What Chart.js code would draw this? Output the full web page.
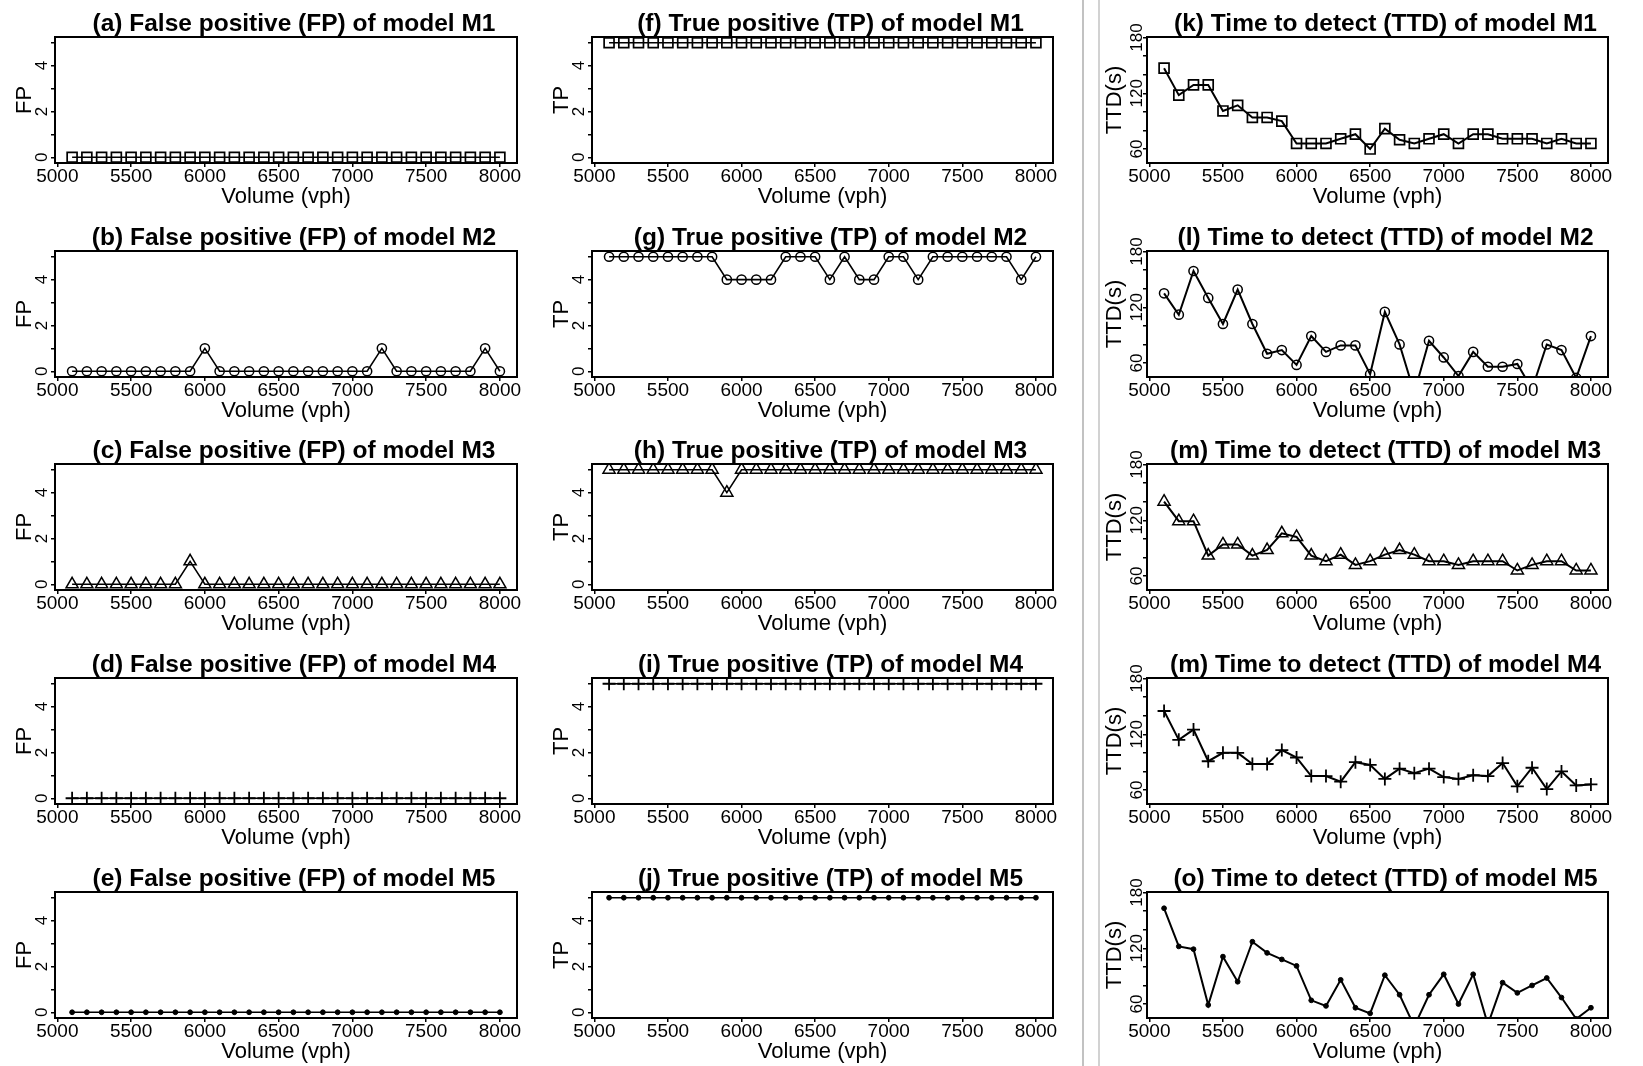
<!DOCTYPE html>
<html>
<head>
<meta charset="utf-8">
<script src="https://cdn.jsdelivr.net/npm/chart.js@4.4.1/dist/chart.umd.min.js"></script>
<style>
  html, body { margin: 0; padding: 0; background: #fff; }
  body { width: 1643px; height: 1066px; position: relative; overflow: hidden; }
  canvas { position: absolute; }
  .divider { position: absolute; top: 0; height: 1066px; }
</style>
</head>
<body>
<div class="divider" style="left:1082px; width:2px; background:#c2c2c2"></div>
<div class="divider" style="left:1098px; width:1.5px; background:#d2d2d2"></div>
<script>
// Traffic volume (vph) tested for every model
const volumes = [5100, 5200, 5300, 5400, 5500, 5600, 5700, 5800, 5900, 6000,
                 6100, 6200, 6300, 6400, 6500, 6600, 6700, 6800, 6900, 7000,
                 7100, 7200, 7300, 7400, 7500, 7600, 7700, 7800, 7900, 8000];
const volumeTicks = [5000, 5500, 6000, 6500, 7000, 7500, 8000];
const countTicks = [0, 1, 2, 3, 4, 5];
const countTickLabels = ['0', '', '2', '', '4', ''];
const ttdTicks = [60, 80, 100, 120, 140, 160, 180];
const ttdTickLabels = ['60', '', '', '120', '', '', '180'];

// False positives
const fpM1 = [0,0,0,0,0,0,0,0,0,0, 0,0,0,0,0,0,0,0,0,0, 0,0,0,0,0,0,0,0,0,0];
const fpM2 = [0,0,0,0,0,0,0,0,0,1, 0,0,0,0,0,0,0,0,0,0, 0,1,0,0,0,0,0,0,1,0];
const fpM3 = [0,0,0,0,0,0,0,0,1,0, 0,0,0,0,0,0,0,0,0,0, 0,0,0,0,0,0,0,0,0,0];
const fpM4 = [0,0,0,0,0,0,0,0,0,0, 0,0,0,0,0,0,0,0,0,0, 0,0,0,0,0,0,0,0,0,0];
const fpM5 = [0,0,0,0,0,0,0,0,0,0, 0,0,0,0,0,0,0,0,0,0, 0,0,0,0,0,0,0,0,0,0];

// True positives
const tpM1 = [5,5,5,5,5,5,5,5,5,5, 5,5,5,5,5,5,5,5,5,5, 5,5,5,5,5,5,5,5,5,5];
const tpM2 = [5,5,5,5,5,5,5,5,4,4, 4,4,5,5,5,4,5,4,4,5, 5,4,5,5,5,5,5,5,4,5];
const tpM3 = [5,5,5,5,5,5,5,5,4,5, 5,5,5,5,5,5,5,5,5,5, 5,5,5,5,5,5,5,5,5,5];
const tpM4 = [5,5,5,5,5,5,5,5,5,5, 5,5,5,5,5,5,5,5,5,5, 5,5,5,5,5,5,5,5,5,5];
const tpM5 = [5,5,5,5,5,5,5,5,5,5, 5,5,5,5,5,5,5,5,5,5, 5,5,5,5,5,5,5,5,5,5];

// Time to detect (s)
const ttdM1 = [147,118,129,129,101,107,94,94,90,66, 66,66,71,76,60,82,70,66,71,76, 66,76,76,71,71,71,66,71,66,66];
const ttdM2 = [135,112,159,130,102,139,102,70,74,58, 89,72,79,79,48,115,80,28,84,66, 46,72,56,56,59,32,80,74,44,89];
const ttdM3 = [140,119,119,82,94,94,82,88,106,102, 82,76,83,72,76,83,88,83,76,76, 72,76,76,76,66,72,76,76,66,66];
const ttdM4 = [145,114,125,91,100,100,88,88,103,95, 75,75,69,90,87,72,83,78,83,74, 72,76,75,89,64,84,61,80,65,66];
const ttdM5 = [163,122,119,59,111,84,127,115,108,101, 64,58,86,56,50,91,70,36,70,92, 60,92,38,83,72,80,88,67,44,56];

const fpTitles = ['(a) False positive (FP) of model M1', '(b) False positive (FP) of model M2',
                  '(c) False positive (FP) of model M3', '(d) False positive (FP) of model M4',
                  '(e) False positive (FP) of model M5'];
const tpTitles = ['(f) True positive (TP) of model M1', '(g) True positive (TP) of model M2',
                  '(h) True positive (TP) of model M3', '(i) True positive (TP) of model M4',
                  '(j) True positive (TP) of model M5'];
const ttdTitles = ['(k) Time to detect (TTD) of model M1', '(l) Time to detect (TTD) of model M2',
                   '(m) Time to detect (TTD) of model M3', '(m) Time to detect (TTD) of model M4',
                   '(o) Time to detect (TTD) of model M5'];

const fpSeries = [fpM1, fpM2, fpM3, fpM4, fpM5];
const tpSeries = [tpM1, tpM2, tpM3, tpM4, tpM5];
const ttdSeries = [ttdM1, ttdM2, ttdM3, ttdM4, ttdM5];

// One plotting symbol per model: square, circle, triangle, plus, dot
const symbols = [
  { pointStyle: 'rect',     pointRadius: 7,   pointBorderWidth: 1.7, pointBackgroundColor: 'rgba(0,0,0,0)' },
  { pointStyle: 'circle',   pointRadius: 4.6, pointBorderWidth: 1.5, pointBackgroundColor: 'rgba(0,0,0,0)' },
  { pointStyle: 'triangle', pointRadius: 7,   pointBorderWidth: 1.5, pointBackgroundColor: 'rgba(0,0,0,0)' },
  { pointStyle: 'cross',    pointRadius: 6.5, pointBorderWidth: 1.8, pointBackgroundColor: 'rgba(0,0,0,0)' },
  { pointStyle: 'circle',   pointRadius: 2.4, pointBorderWidth: 1,   pointBackgroundColor: '#000' }
];

const FONT = "'Liberation Sans', Arial, Helvetica, sans-serif";
const INK = '#000';
const rowTops = [37, 251, 464, 678, 892];
const colLefts = [55, 592, 1147];
const colWidths = [462, 461, 461];
const BOX_H = 126, SIDE = 55, TOP = 37, BOTTOM = 50;

// Box around the plotting region
const framePlugin = {
  id: 'frame',
  afterDatasetsDraw(chart) {
    const a = chart.chartArea, ctx = chart.ctx;
    ctx.save();
    ctx.strokeStyle = INK;
    ctx.lineWidth = 2;
    ctx.strokeRect(a.left, a.top, a.right - a.left, a.bottom - a.top);
    ctx.restore();
  }
};

// Panel heading above the box
const headingPlugin = {
  id: 'heading',
  afterDraw(chart, args, opts) {
    const a = chart.chartArea, ctx = chart.ctx;
    ctx.save();
    ctx.fillStyle = INK;
    ctx.font = 'bold ' + opts.size + 'px ' + FONT;
    ctx.textAlign = 'center';
    ctx.textBaseline = 'middle';
    ctx.fillText(opts.text, (a.left + a.right) / 2 + opts.shift, a.top - opts.rise);
    ctx.restore();
  }
};

// y tick labels written parallel to the axis
const yTickTextPlugin = {
  id: 'yTickText',
  afterDraw(chart, args, opts) {
    const s = chart.scales.y, ctx = chart.ctx, a = chart.chartArea;
    ctx.save();
    ctx.fillStyle = INK;
    ctx.font = opts.size + 'px ' + FONT;
    ctx.textAlign = 'center';
    ctx.textBaseline = 'middle';
    opts.values.forEach((v, i) => {
      const t = opts.labels[i];
      if (!t) return;
      ctx.save();
      ctx.translate(a.left - opts.gap, s.getPixelForValue(v));
      ctx.rotate(-Math.PI / 2);
      ctx.fillText(t, 0, 0);
      ctx.restore();
    });
    ctx.restore();
  }
};

function panel(col, row, title, values, yCfg, lineWidth) {
  const boxL = colLefts[col], boxW = colWidths[col], boxT = rowTops[row];
  const cv = document.createElement('canvas');
  cv.width = boxW + 2 * SIDE;
  cv.height = TOP + BOX_H + BOTTOM;
  cv.style.left = (boxL - SIDE) + 'px';
  cv.style.top = (boxT - TOP) + 'px';
  document.body.appendChild(cv);

  const sym = symbols[row];
  new Chart(cv, {
    type: 'line',
    data: {
      datasets: [{
        data: volumes.map((v, i) => ({ x: v, y: values[i] })),
        borderColor: INK,
        borderWidth: lineWidth,
        pointBorderColor: INK,
        pointStyle: sym.pointStyle,
        pointRadius: sym.pointRadius,
        pointBorderWidth: sym.pointBorderWidth,
        pointBackgroundColor: sym.pointBackgroundColor,
        tension: 0,
        fill: false
      }]
    },
    options: {
      responsive: false,
      animation: false,
      events: [],
      layout: { padding: { left: 0, right: SIDE, top: TOP, bottom: 0 } },
      plugins: {
        legend: { display: false },
        tooltip: { enabled: false },
        title: { display: false },
        heading: { text: title, size: 24.5, shift: 8, rise: 12.5 },
        yTickText: { values: yCfg.ticks, labels: yCfg.labels, gap: yCfg.gap, size: 17 }
      },
      scales: {
        x: {
          type: 'linear',
          min: 4984,
          max: 8116,
          afterBuildTicks: s => { s.ticks = volumeTicks.map(v => ({ value: v })); },
          afterFit: s => { s.height = BOTTOM; },
          grid: { display: true, drawOnChartArea: false, drawTicks: true, tickLength: 4, color: INK, lineWidth: 1.5 },
          border: { display: false },
          ticks: { autoSkip: false, maxRotation: 0, minRotation: 0, padding: 0, color: INK,
                   callback: v => String(v),
                   font: { family: FONT, size: 19, lineHeight: 1 } },
          title: { display: true, text: 'Volume (vph)', color: INK,
                   font: { family: FONT, size: 22, lineHeight: 1 }, padding: { top: 0, bottom: 5 } }
        },
        y: {
          type: 'linear',
          min: yCfg.min,
          max: yCfg.max,
          afterBuildTicks: s => { s.ticks = yCfg.ticks.map(v => ({ value: v })); },
          afterFit: s => { s.width = SIDE; },
          grid: { display: true, drawOnChartArea: false, drawTicks: true, tickLength: 4, color: INK, lineWidth: 1.5 },
          border: { display: false },
          ticks: { display: false },
          title: { display: true, text: yCfg.title, color: INK,
                   font: { family: FONT, size: 22, lineHeight: 1 }, padding: { top: yCfg.titlePad, bottom: 0 } }
        }
      }
    },
    plugins: [framePlugin, headingPlugin, yTickTextPlugin]
  });
}

const fpAxis  = { min: -0.25, max: 5.25, ticks: countTicks, labels: countTickLabels, title: 'FP',     gap: 13, titlePad: 14 };
const tpAxis  = { min: -0.25, max: 5.25, ticks: countTicks, labels: countTickLabels, title: 'TP',     gap: 13, titlePad: 14 };
const ttdAxis = { min: 45,    max: 180.5, ticks: ttdTicks,  labels: ttdTickLabels,   title: 'TTD(s)', gap: 10, titlePad: 12 };

for (let r = 0; r < 5; r++) {
  panel(0, r, fpTitles[r], fpSeries[r], fpAxis, 1.6);
  panel(1, r, tpTitles[r], tpSeries[r], tpAxis, 1.6);
  panel(2, r, ttdTitles[r], ttdSeries[r], ttdAxis, 2);
}
</script>
</body>
</html>
